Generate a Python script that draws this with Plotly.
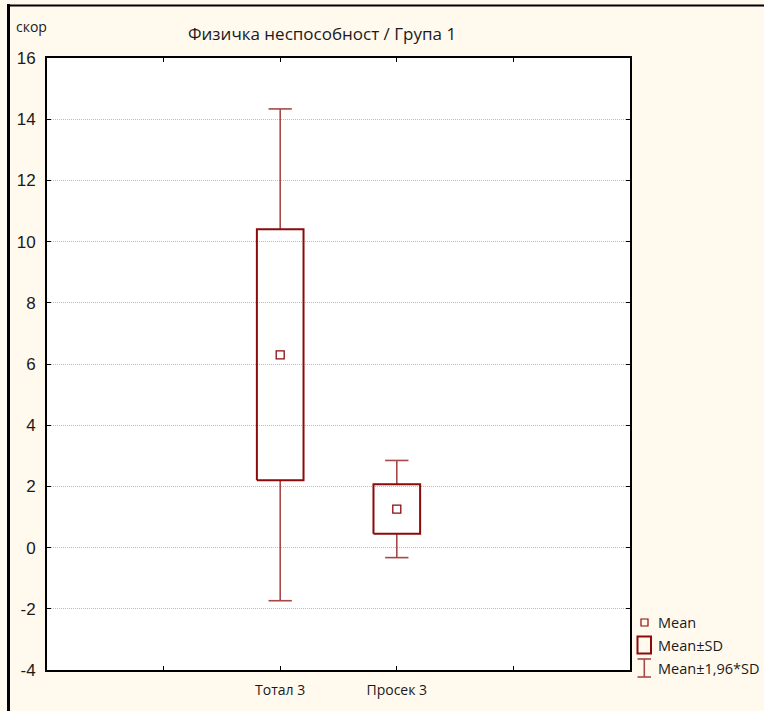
import plotly.graph_objects as go

categories = ["Тотал 3", "Просек 3"]
means = [6.3, 1.26]
sds = [4.1, 0.81]
k_factor = 1.96
y_ticks = [-4, -2, 0, 2, 4, 6, 8, 10, 12, 14, 16]
y_tick_labels = ["-4", "-2", "0", "2", "4", "6", "8", "10", "12", "14", "16"]
x_tick_labels = ["", "Тотал 3", "Просек 3", ""]

W, H = 764, 711
L, R, T, B = 47, 134, 58, 41
PW, PH = W - L - R, H - T - B

BOX_C = "#8B0A0A"
WH_C = "#A84848"
NARROW = "Open Sans, Noto Sans, sans-serif"
TXT = "#1a1a1a"

positions = [i + 2 for i in range(len(categories))]
fig = go.Figure()
bw, cw = 0.2, 0.1
for x, m, s in zip(positions, means, sds):
    lo, hi = m - s, m + s
    wlo, whi = m - k_factor * s, m + k_factor * s
    fig.add_trace(go.Scatter(
        x=[x, x, None, x - cw, x + cw, None, x, x, None, x - cw, x + cw],
        y=[hi, whi, None, whi, whi, None, lo, wlo, None, wlo, wlo],
        mode="lines", line=dict(color=WH_C, width=1.6), hoverinfo="skip", showlegend=False))
    fig.add_trace(go.Scatter(
        x=[x - bw, x + bw, x + bw, x - bw, x - bw],
        y=[lo, lo, hi, hi, lo],
        mode="lines", line=dict(color=BOX_C, width=2), hoverinfo="skip", showlegend=False))
    fig.add_trace(go.Scatter(
        x=[x], y=[m], mode="markers",
        marker=dict(symbol="square-open", size=8, color=BOX_C, line=dict(width=1.3)),
        showlegend=False))

def px(xp):
    return (xp - L) / PW

def py(yp):
    return (H - B - yp) / PH

shapes = [
    dict(type="line", xref="paper", yref="paper", x0=px(8.5), x1=px(8.5), y0=py(4), y1=py(H + 5),
         line=dict(color="black", width=3)),
    dict(type="line", xref="paper", yref="paper", x0=px(7), x1=px(W + 5), y0=py(5.5), y1=py(5.5),
         line=dict(color="black", width=2)),
    dict(type="rect", xref="paper", yref="paper", x0=px(641), x1=px(648), y0=py(626), y1=py(619),
         line=dict(color=BOX_C, width=1.2)),
    dict(type="rect", xref="paper", yref="paper", x0=px(637.5), x1=px(651), y0=py(653.5), y1=py(636.5),
         line=dict(color=BOX_C, width=2)),
    dict(type="line", xref="paper", yref="paper", x0=px(644.3), x1=px(644.3), y0=py(659), y1=py(677),
         line=dict(color=WH_C, width=1.6)),
    dict(type="line", xref="paper", yref="paper", x0=px(637.5), x1=px(651), y0=py(659), y1=py(659),
         line=dict(color=WH_C, width=1.6)),
    dict(type="line", xref="paper", yref="paper", x0=px(637.5), x1=px(651), y0=py(677), y1=py(677),
         line=dict(color=WH_C, width=1.6)),
]

annotations = [
    dict(text="Физичка неспособност / Група 1", xref="paper", yref="paper", x=px(322), y=py(34),
         showarrow=False, xanchor="center", yanchor="middle", font=dict(family=NARROW, size=17, color=TXT)),
    dict(text="скор", xref="paper", yref="paper", x=px(14), y=py(27),
         showarrow=False, xanchor="left", yanchor="middle", font=dict(family=NARROW, size=14, color=TXT)),
    dict(text="Mean", xref="paper", yref="paper", x=px(656), y=py(622.5),
         showarrow=False, xanchor="left", yanchor="middle", font=dict(family=NARROW, size=14.5, color=TXT)),
    dict(text="Mean±SD", xref="paper", yref="paper", x=px(656), y=py(645),
         showarrow=False, xanchor="left", yanchor="middle", font=dict(family=NARROW, size=14.5, color=TXT)),
    dict(text="Mean±1,96*SD", xref="paper", yref="paper", x=px(656), y=py(668),
         showarrow=False, xanchor="left", yanchor="middle", font=dict(family=NARROW, size=14.5, color=TXT)),
]

fig.update_layout(
    width=W, height=H,
    margin=dict(l=L, r=R, t=T, b=B, pad=0),
    paper_bgcolor="#FFF9EE", plot_bgcolor="white",
    showlegend=False, shapes=shapes, annotations=annotations,
    xaxis=dict(range=[0, 5], tickvals=[1, 2, 3, 4], ticktext=x_tick_labels,
               ticks="inside", ticklen=4, tickcolor="black", showgrid=False, zeroline=False,
               showline=True, linecolor="black", linewidth=2, mirror="ticks",
               tickfont=dict(family=NARROW, size=14, color=TXT), ticklabelstandoff=6),
    yaxis=dict(range=[-4, 16], tickvals=y_ticks, ticktext=y_tick_labels,
               ticks="inside", ticklen=4, tickcolor="black",
               showgrid=True, gridcolor="#bdbdbd", griddash="1px,1px", gridwidth=1, zeroline=False,
               showline=True, linecolor="black", linewidth=2, mirror="ticks",
               tickfont=dict(family="Liberation Sans, Arial, sans-serif", size=17, color=TXT),
               ticklabelstandoff=6),
)

fig.write_html("out.html")
